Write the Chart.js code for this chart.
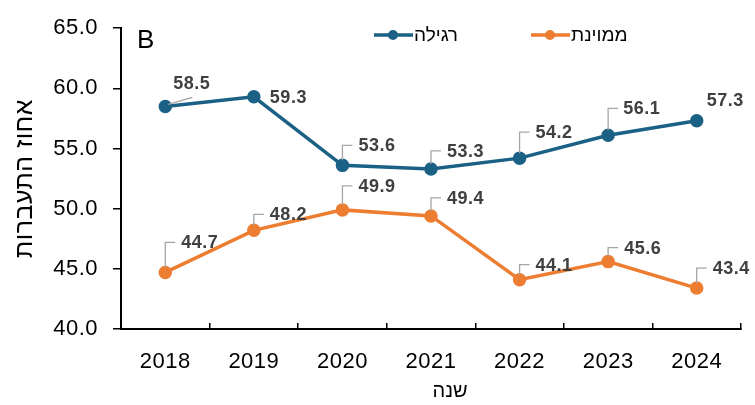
<!DOCTYPE html>
<html lang="he">
<head>
<meta charset="utf-8">
<script src="https://cdn.jsdelivr.net/npm/chart.js@4.4.1/dist/chart.umd.min.js"></script>
<style>
  body { margin: 0; background: #fff; }
  #chart { display: block; }
</style>
</head>
<body>
<canvas id="chart" width="755" height="405"></canvas>
<script>
  // data
  const years = ['2018', '2019', '2020', '2021', '2022', '2023', '2024'];
  const regular = [58.5, 59.3, 53.6, 53.3, 54.2, 56.1, 57.3];
  const sorted = [44.7, 48.2, 49.9, 49.4, 44.1, 45.6, 43.4];
  const seriesNames = ['רגילה', 'ממוינת'];
  const yMin = 40, yMax = 65, yStep = 5;

  // label placement (data label offsets, leader style)
  const regularLabelDy = [-22, 1, -19, -17, -25, -26, -20];
  const regularLabelDx = [8, 16, 16, 16, 16, 15, 10];
  const regularLeader = ['diag', 'none', 'elbow', 'elbow', 'elbow', 'elbow', 'none'];
  const sortedLabelDy = [-29, -15, -23, -17, -14, -13, -19];
  const sortedLabelDx = [16, 16, 16, 16, 16, 16, 16];
  const sortedLeader = ['elbow', 'elbow', 'elbow', 'elbow', 'elbow', 'elbow', 'elbow'];

  const blue = '#1b6185';
  const orange = '#ed7d31';
  const FONT = "'Liberation Sans', Arial, sans-serif";

  // slightly wider digits, like the original
  const spacingPlugin = {
    id: 'spacing',
    beforeDraw(chart) {
      chart.ctx.letterSpacing = '0.5px';
    }
  };

  const labelsPlugin = {
    id: 'pointLabels',
    afterDatasetsDraw(chart) {
      const ctx = chart.ctx;
      chart.data.datasets.forEach(function (ds, di) {
        const meta = chart.getDatasetMeta(di);
        meta.data.forEach(function (pt, i) {
          const x = pt.x, y = pt.y;
          const ly = y + ds.labelDy[i];
          ctx.save();
          ctx.strokeStyle = '#a6a6a6';
          ctx.lineWidth = 1.3;
          if (ds.leader[i] === 'elbow') {
            ctx.beginPath();
            ctx.moveTo(x, y - 5);
            ctx.lineTo(x, ly - 1);
            ctx.lineTo(x + 10, ly - 1);
            ctx.stroke();
          } else if (ds.leader[i] === 'diag') {
            ctx.beginPath();
            ctx.moveTo(x + 3, y - 2);
            ctx.lineTo(x + 27, y - 9);
            ctx.stroke();
          }
          ctx.letterSpacing = '0.5px';
          ctx.fillStyle = '#404040';
          ctx.font = 'bold 18px ' + FONT;
          ctx.textAlign = 'left';
          ctx.textBaseline = 'middle';
          ctx.fillText(ds.data[i].toFixed(1), x + ds.labelDx[i], ly);
          ctx.restore();
        });
      });
    }
  };

  const legendPlugin = {
    id: 'insideLegend',
    afterDraw(chart) {
      const ctx = chart.ctx;
      const items = [
        { x: 374, color: blue, text: seriesNames[0] },
        { x: 531, color: orange, text: seriesNames[1] }
      ];
      ctx.save();
      ctx.letterSpacing = '0px';
      items.forEach(function (it) {
        const y = 35;
        ctx.strokeStyle = it.color;
        ctx.lineWidth = 3.5;
        ctx.beginPath();
        ctx.moveTo(it.x, y);
        ctx.lineTo(it.x + 39, y);
        ctx.stroke();
        ctx.fillStyle = it.color;
        ctx.beginPath();
        ctx.arc(it.x + 19, y, 5, 0, Math.PI * 2);
        ctx.fill();
        ctx.fillStyle = '#000';
        ctx.font = '19px ' + FONT;
        ctx.textAlign = 'left';
        ctx.textBaseline = 'middle';
        ctx.fillText(it.text, it.x + 40, y + 1);
      });
      // panel letter
      ctx.font = '26px ' + FONT;
      ctx.textAlign = 'left';
      ctx.textBaseline = 'middle';
      ctx.fillText('B', 137, 41);
      // x axis title
      ctx.font = '20px ' + FONT;
      ctx.textAlign = 'center';
      ctx.fillText('שנה', 450, 391);
      ctx.restore();
    }
  };

  const ctx = document.getElementById('chart');
  new Chart(ctx, {
    type: 'line',
    data: {
      labels: years,
      datasets: [{
        label: seriesNames[0],
        data: regular,
        borderColor: blue,
        backgroundColor: blue,
        borderWidth: 3.5,
        pointRadius: 5,
        pointHoverRadius: 5,
        tension: 0,
        labelDy: regularLabelDy,
        labelDx: regularLabelDx,
        leader: regularLeader
      }, {
        label: seriesNames[1],
        data: sorted,
        borderColor: orange,
        backgroundColor: orange,
        borderWidth: 3.5,
        pointRadius: 5,
        pointHoverRadius: 5,
        tension: 0,
        labelDy: sortedLabelDy,
        labelDx: sortedLabelDx,
        leader: sortedLeader
      }]
    },
    options: {
      responsive: false,
      animation: false,
      layout: { padding: { top: 28, right: 14, left: 0, bottom: 0 } },
      plugins: {
        legend: { display: false },
        tooltip: { enabled: false }
      },
      scales: {
        x: {
          offset: true,
          grid: {
            offset: true,
            drawOnChartArea: false,
            color: '#000',
            lineWidth: 1.5,
            tickLength: -6
          },
          border: { color: '#000', width: 2 },
          ticks: {
            color: '#000',
            font: { family: FONT, size: 22 },
            padding: 26,
            maxRotation: 0
          },
          title: { display: false },
          afterFit: function (scale) { scale.height = 76; }
        },
        y: {
          min: yMin,
          max: yMax,
          grid: {
            drawOnChartArea: false,
            color: '#000',
            lineWidth: 1.5,
            tickLength: 8
          },
          border: { color: '#000', width: 2 },
          ticks: {
            stepSize: yStep,
            color: '#000',
            font: { family: FONT, size: 22 },
            padding: 15,
            callback: function (v) { return v.toFixed(1); }
          },
          title: {
            display: true,
            text: 'אחוז התעברות',
            color: '#000',
            font: { family: FONT, size: 25 },
            padding: 10
          },
          afterFit: function (scale) { scale.width = 121; }
        }
      }
    },
    plugins: [spacingPlugin, labelsPlugin, legendPlugin]
  });
</script>
</body>
</html>
